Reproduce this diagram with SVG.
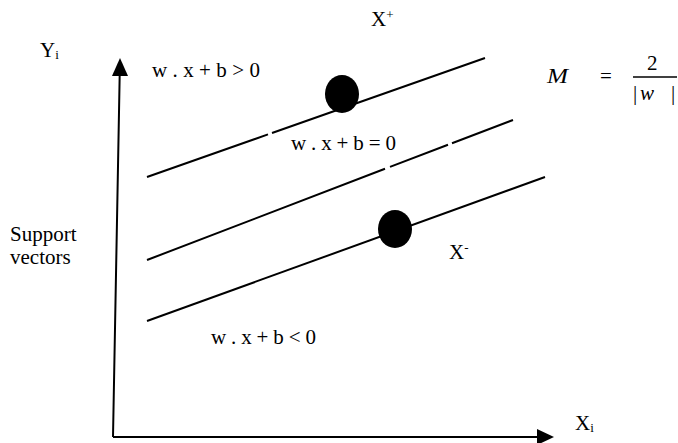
<svg xmlns="http://www.w3.org/2000/svg" width="678" height="443" viewBox="0 0 678 443">
<style>
.t{font-family:'Liberation Serif','Times New Roman',serif;font-size:21px;fill:#000}
.sub{font-size:13px}
.ax{stroke:#000;stroke-width:2;fill:none}
.ln{stroke:#000;stroke-width:2;fill:none}
</style>
<rect width="678" height="443" fill="#fff"/>
<g id="axes">
<path class="ax" d="M113,437 L119.7,74 M113,437 L538,437"/>
<polygon points="120,58 128,76 112,76" fill="#000"/>
<polygon points="554,437 537,429 537,445" fill="#000"/>
</g>
<g id="connectors">
<path class="ln" d="M147,177 L268,134.4 M272,133 L485,58"/>
<path class="ln" d="M147,260 L385,168.8 M390,166.9 L448,144.7 M452,143.2 L513,120"/>
<path class="ln" d="M147,321 L545,177"/>
</g>
<g id="xplus-point"><ellipse cx="342" cy="94" rx="17" ry="19" fill="#000"/></g>
<g id="xminus-point"><ellipse cx="395" cy="229" rx="17" ry="19" fill="#000"/></g>
<g id="labels">
<text class="t" x="40" y="57">Y<tspan class="sub" dy="2">i</tspan></text>
<text class="t" x="152" y="77" textLength="108" lengthAdjust="spacing">w . x + b &gt; 0</text>
<text class="t" x="291" y="150" textLength="105" lengthAdjust="spacing">w . x + b = 0</text>
<text class="t" x="211" y="344" textLength="105" lengthAdjust="spacing">w . x + b &lt; 0</text>
<text class="t" x="371" y="26">X<tspan class="sub" dy="-7">+</tspan></text>
<text class="t" x="449" y="259">X<tspan class="sub" dy="-7">-</tspan></text>
<text class="t" x="575" y="430">X<tspan class="sub" dy="2">i</tspan></text>
<text class="t" x="10" y="241">Support</text>
<text class="t" x="10" y="264">vectors</text>
</g>
<g id="margin-formula">
<text class="t" x="547" y="83" font-style="italic" textLength="21" lengthAdjust="spacingAndGlyphs">M</text>
<text class="t" x="600" y="83">=</text>
<text class="t" x="647" y="70">2</text>
<line x1="633" y1="77" x2="677" y2="77" stroke="#000" stroke-width="1.3"/>
<text class="t" x="633" y="100">|</text>
<text class="t" x="640" y="100" font-style="italic">w</text>
<text class="t" x="671" y="100">|</text>
</g>
</svg>
